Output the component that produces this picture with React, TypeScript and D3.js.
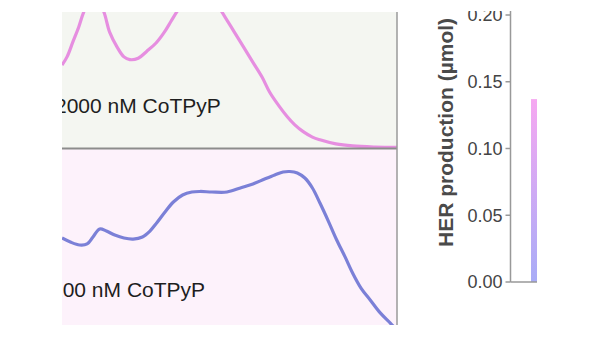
import React from "react";
import * as d3 from "d3";

// Absorbance-like spectra (wavelength nm -> normalized value)
const wavelengthsTop = [300, 306, 313, 320, 326, 338, 350, 357, 366, 374, 381, 391, 401, 412, 422, 430, 437, 453, 471, 483, 491, 502, 513, 528, 539, 548, 559, 569, 578, 588, 599, 608, 627, 647, 674, 700];
const valuesTop = [0.61, 0.67, 0.78, 0.89, 1.0, 1.15, 1.0, 0.85, 0.74, 0.67, 0.65, 0.66, 0.71, 0.77, 0.85, 0.93, 1.0, 1.15, 1.16, 1.09, 1.0, 0.89, 0.78, 0.63, 0.52, 0.41, 0.31, 0.23, 0.17, 0.12, 0.08, 0.06, 0.03, 0.015, 0.007, 0.004];

const wavelengthsBottom = [300, 310, 321, 330, 337, 345, 353, 363, 374, 385, 396, 405, 413, 423, 433, 444, 455, 465, 479, 497, 513, 528, 542, 554, 564, 572, 581, 590, 599, 608, 618, 628, 638, 647, 657, 668, 680, 692, 700];
const valuesBottom = [0.497, 0.474, 0.457, 0.463, 0.503, 0.549, 0.537, 0.514, 0.497, 0.491, 0.503, 0.537, 0.583, 0.646, 0.703, 0.743, 0.76, 0.763, 0.76, 0.76, 0.783, 0.806, 0.834, 0.857, 0.874, 0.877, 0.869, 0.84, 0.783, 0.697, 0.594, 0.486, 0.389, 0.297, 0.211, 0.143, 0.069, 0.011, -0.03];

const panelLabels = ["2000 nM CoTPyP", "200 nM CoTPyP"];

// HER production bar
const barCategories = ["200 nM CoTPyP", "2000 nM CoTPyP"];
const barValues = [0.137, 0.0];
const herTicks = [0.0, 0.05, 0.1, 0.15, 0.2];
const herTitle = "HER production (\u00b5mol)";

const W = 600;
const H = 338;

export default function App() {
  const x = d3.scaleLinear().domain([300, 700]).range([62, 397]);
  const yTop = d3.scaleLinear().domain([0, 1]).range([148, 12]);
  const yBot = d3.scaleLinear().domain([0, 1]).range([325, 150]);

  const lineTop = d3
    .line<number>()
    .x((_, i) => x(wavelengthsTop[i]))
    .y((d) => yTop(d))
    .curve(d3.curveCatmullRom.alpha(0.5));
  const lineBot = d3
    .line<number>()
    .x((_, i) => x(wavelengthsBottom[i]))
    .y((d) => yBot(d))
    .curve(d3.curveCatmullRom.alpha(0.5));

  const yHer = d3.scaleLinear().domain([0, 0.2]).range([282, 15]);
  const xBar = d3.scaleBand().domain(barCategories).range([511, 600]).paddingInner(0.3).paddingOuter(0.694);
  const axisX = 510.5;

  const font = "'Liberation Sans', Arial, Helvetica, sans-serif";

  return (
    <div style={{ position: "absolute", left: 0, top: 0 }}>
      <svg width={W} height={H} style={{ display: "block", background: "#ffffff" }}>
        <defs>
          <clipPath id="clipTop">
            <rect x={62} y={12} width={335} height={137} />
          </clipPath>
          <clipPath id="clipBot">
            <rect x={62} y={149} width={335} height={176} />
          </clipPath>
          <clipPath id="clipBar">
            <rect x={500} y={0} width={37} height={300} />
          </clipPath>
          <linearGradient id="barGrad" x1="0" y1="1" x2="0" y2="0">
            <stop offset="0%" stopColor="#a8acf7" />
            <stop offset="100%" stopColor="#f6a8f1" />
          </linearGradient>
        </defs>

        {/* panels */}
        <rect x={62} y={12} width={335} height={137} fill="#f4f6f1" />
        <rect x={62} y={149} width={335} height={176} fill="#fdf2fb" />

        <g clipPath="url(#clipTop)">
          <text x={55} y={113} fontFamily={font} fontSize={21} fill="#1e1e1e">
            {panelLabels[0]}
          </text>
          <path d={lineTop(valuesTop) || ""} fill="none" stroke="#e68ee0" strokeWidth={3.2} />
        </g>
        <g clipPath="url(#clipBot)">
          <text x={51} y={297} fontFamily={font} fontSize={21} fill="#1e1e1e">
            {panelLabels[1]}
          </text>
          <path d={lineBot(valuesBottom) || ""} fill="none" stroke="#7b80d7" strokeWidth={3.2} />
        </g>

        <line x1={62} x2={397} y1={148.5} y2={148.5} stroke="#8c8c8c" strokeWidth={2} />
        <line x1={397} x2={397} y1={12} y2={325} stroke="#9a9a9a" strokeWidth={1.5} />

        {/* HER bar chart */}
        <g clipPath="url(#clipBar)">
          {barCategories.map((c, i) => (
            <rect
              key={c}
              x={xBar(c)}
              y={yHer(barValues[i])}
              width={xBar.bandwidth()}
              height={yHer(0) - yHer(barValues[i])}
              fill="url(#barGrad)"
            />
          ))}
          <line x1={axisX} x2={600} y1={yHer(0)} y2={yHer(0)} stroke="#999" strokeWidth={1.5} />
        </g>
        <line x1={axisX} x2={axisX} y1={yHer(0.2) - 4} y2={yHer(0)} stroke="#999" strokeWidth={1.5} />
        {herTicks.map((t) => (
          <g key={t}>
            <line x1={axisX - 5} x2={axisX} y1={yHer(t)} y2={yHer(t)} stroke="#999" strokeWidth={1.5} />
            <text
              x={axisX - 8}
              y={yHer(t)}
              dy="0.35em"
              textAnchor="end"
              fontFamily={font}
              fontSize={18}
              fill="#444"
            >
              {t.toFixed(2)}
            </text>
          </g>
        ))}
        <text
          transform={`translate(453,247) rotate(-90)`}
          fontFamily={font}
          fontSize={21}
          fontWeight="bold"
          fill="#4a4a4a"
        >
          {herTitle}
        </text>

        {/* top crop edge of the original figure */}
        <rect x={0} y={0} width={W} height={11} fill="#ffffff" />
      </svg>
    </div>
  );
}
